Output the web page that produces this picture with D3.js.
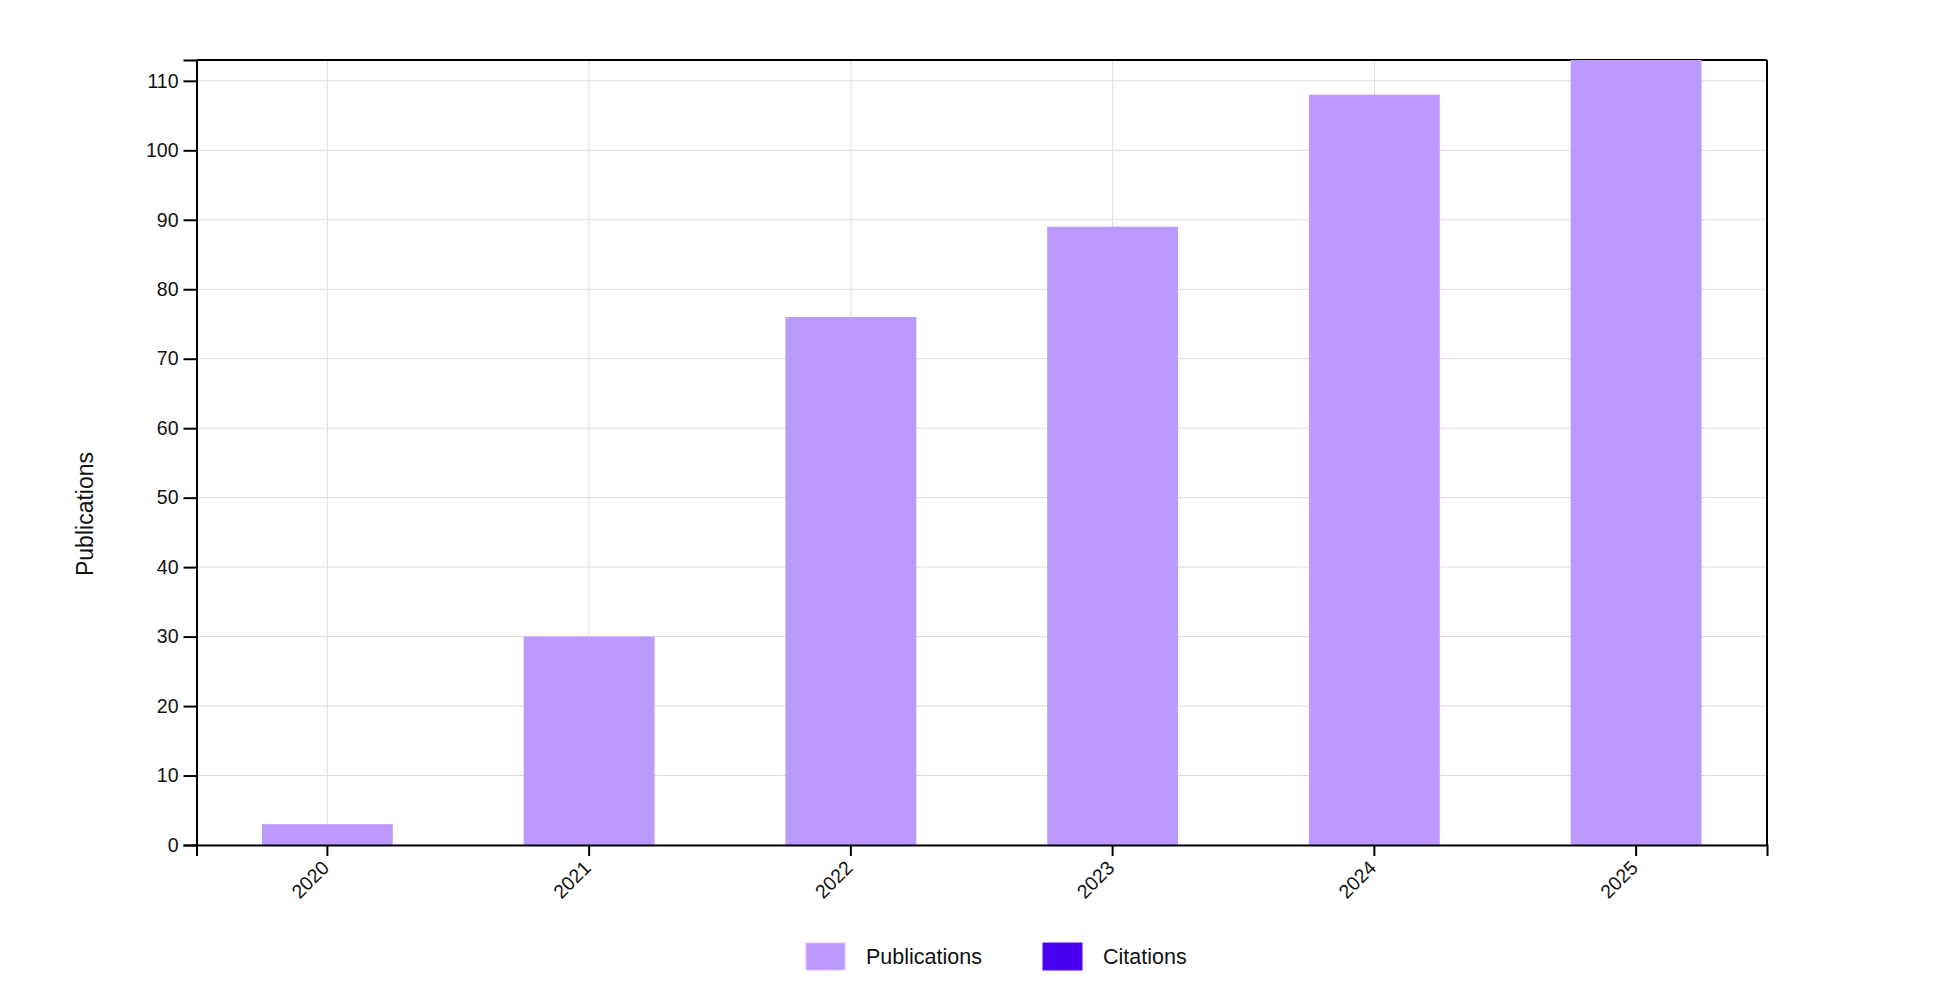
<!DOCTYPE html>
<html>
<head>
<meta charset="utf-8">
<script src="https://cdn.jsdelivr.net/npm/d3@7"></script>
<style>
  html, body { margin: 0; padding: 0; background: #fff; }
  svg { display: block; font-family: "Liberation Sans", Arial, sans-serif; }
</style>
</head>
<body>
<svg id="chart" width="1942" height="982"></svg>
<script>
const years = ["2020", "2021", "2022", "2023", "2024", "2025"];
const publications = [3, 30, 76, 89, 108, 113];
const yTicks = [0, 10, 20, 30, 40, 50, 60, 70, 80, 90, 100, 110];
const seriesNames = ["Publications", "Citations"];
const seriesColors = ["#bb99ff", "#4800ee"];

const W = 1942, H = 982;
const m = { left: 196.5, right: 175, top: 60, bottom: 137 };
const x0 = m.left, x1 = W - m.right, yTop = m.top, yBot = H - m.bottom;

const svg = d3.select("#chart");

const x = d3.scaleBand().domain(years).range([x0, x1]).paddingInner(0.5).paddingOuter(0.25);
const y = d3.scaleLinear().domain([0, d3.max(publications)]).range([yBot, yTop]);

// grid
const grid = svg.append("g");
grid.selectAll("line.h").data(yTicks).join("line")
  .attr("x1", x0).attr("x2", x1)
  .attr("y1", d => y(d)).attr("y2", d => y(d))
  .attr("stroke", "#dddddd").attr("stroke-width", 1);
grid.selectAll("line.v").data(years).join("line")
  .attr("x1", d => x(d) + x.bandwidth() / 2).attr("x2", d => x(d) + x.bandwidth() / 2)
  .attr("y1", yTop).attr("y2", yBot)
  .attr("stroke", "#dddddd").attr("stroke-width", 1);

// frame top and right
svg.append("line").attr("x1", x0).attr("x2", x1).attr("y1", yTop).attr("y2", yTop)
  .attr("stroke", "#000").attr("stroke-width", 2);
svg.append("line").attr("x1", x1).attr("x2", x1).attr("y1", yTop).attr("y2", yBot)
  .attr("stroke", "#000").attr("stroke-width", 2);

// bars
svg.append("g").selectAll("rect").data(years).join("rect")
  .attr("x", d => x(d))
  .attr("width", x.bandwidth())
  .attr("y", (d, i) => y(publications[i]))
  .attr("height", (d, i) => yBot - y(publications[i]))
  .attr("fill", seriesColors[0]);

// y axis
const yAxis = svg.append("g").attr("transform", `translate(${x0},0)`)
  .call(d3.axisLeft(y).tickValues(yTicks).tickSize(13).tickSizeOuter(13).tickPadding(5));
yAxis.selectAll("path, line").attr("stroke", "#000").attr("stroke-width", 2);
yAxis.selectAll("text").attr("font-size", 19.5).attr("fill", "#111").attr("font-family", "Liberation Sans, Arial, sans-serif");

// x axis
const xAxis = svg.append("g").attr("transform", `translate(0,${yBot})`)
  .call(d3.axisBottom(x).tickSize(11).tickSizeOuter(11));
xAxis.selectAll("path, line").attr("stroke", "#000").attr("stroke-width", 2);
xAxis.selectAll("text")
  .attr("font-size", 19.5).attr("fill", "#111").attr("font-family", "Liberation Sans, Arial, sans-serif")
  .attr("x", 0).attr("y", 0).attr("dy", 0)
  .attr("text-anchor", "end")
  .attr("transform", "translate(3,24) rotate(-45)");

// y title
svg.append("text")
  .attr("transform", `translate(93,514) rotate(-90)`)
  .attr("text-anchor", "middle")
  .attr("font-size", 23)
  .attr("fill", "#111")
  .text("Publications");

// legend
const legendX = [806, 1043];
const leg = svg.append("g");
seriesNames.forEach((name, i) => {
  leg.append("rect")
    .attr("x", legendX[i]).attr("y", 943)
    .attr("width", 39).attr("height", 27)
    .attr("fill", seriesColors[i])
    .attr("stroke", d3.color(seriesColors[i]).brighter(0.6)).attr("stroke-width", 1);
  leg.append("text")
    .attr("x", legendX[i] + 60).attr("y", 964)
    .attr("font-size", 21.5).attr("fill", "#111")
    .text(name);
});
</script>
</body>
</html>
